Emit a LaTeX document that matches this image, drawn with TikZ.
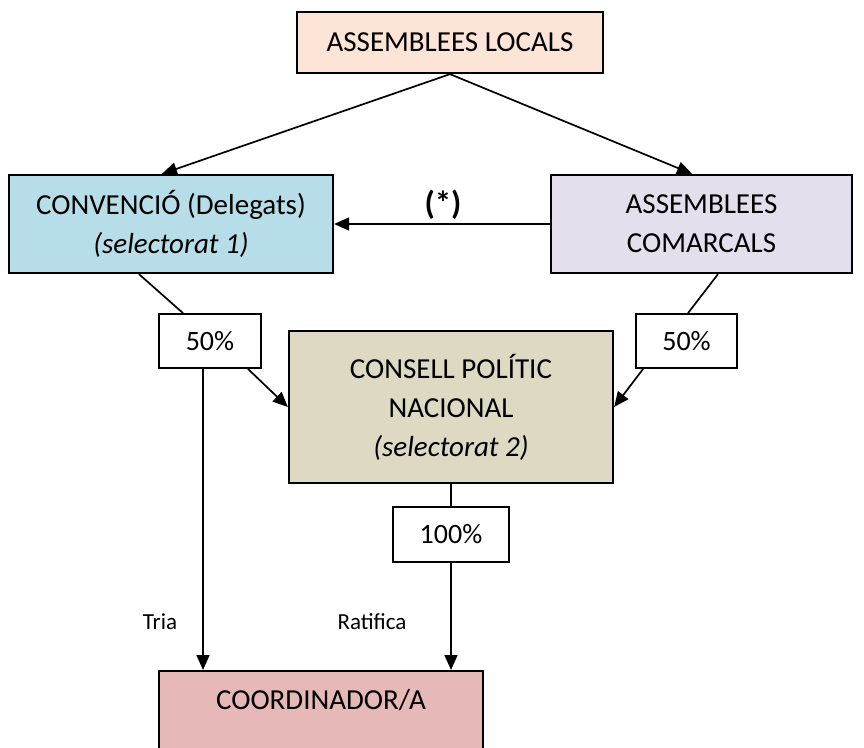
\documentclass[tikz,border=0pt]{standalone}
\usepackage{fontspec}
\setmainfont{Carlito}
\usetikzlibrary{arrows.meta}
\definecolor{localsfill}{RGB}{252,228,214}
\definecolor{convfill}{RGB}{183,222,232}
\definecolor{comarcfill}{RGB}{228,223,236}
\definecolor{consellfill}{RGB}{221,217,195}
\definecolor{coordfill}{RGB}{230,184,183}
\begin{document}
\begin{tikzpicture}[x=1pt,y=-1pt,
	box/.style={draw, line width=2.3pt, align=center, inner sep=0pt, font=\fontsize{29}{39}\selectfont},
	pct/.style={draw, fill=white, line width=1.8pt, inner sep=0pt, font=\fontsize{28}{34}\selectfont},
	link/.style={line width=1.7pt},
	arr/.style={line width=1.7pt, -{Triangle[length=15pt,width=13pt]}},
	note/.style={font=\fontsize{23}{28}\selectfont}]
\useasboundingbox (0,0) rectangle (864,747);

\node[box, fill=localsfill, minimum width=306pt, minimum height=61pt] (locals) at (450,42.5) {ASSEMBLEES LOCALS};
\node[box, fill=convfill, minimum width=324pt, minimum height=98pt] (conv) at (171,224) {CONVENCIÓ (Delegats)\\\textit{(selectorat 1)}};
\node[box, fill=comarcfill, minimum width=301pt, minimum height=98pt] (comarc) at (701.5,224) {ASSEMBLEES\\COMARCALS};
\node[box, fill=consellfill, minimum width=324pt, minimum height=152pt] (consell) at (451,407) {CONSELL POLÍTIC\\NACIONAL\\\textit{(selectorat 2)}};
\node[box, fill=coordfill, minimum width=324pt, minimum height=140pt, anchor=north,
	label={[anchor=north, font=\fontsize{29}{39}\selectfont, yshift=-16pt]north:COORDINADOR/A}] (coord) at (321,670) {};

\node[pct, minimum width=102pt, minimum height=54pt] (p50l) at (210,341) {50\%};
\node[pct, minimum width=101pt, minimum height=54pt] (p50r) at (686.5,341) {50\%};
\node[pct, minimum width=116pt, minimum height=55pt] (p100) at (451,534.5) {100\%};

\draw[arr] (locals.south) -- ([xshift=-9pt]conv.north);
\draw[arr] (locals.south) -- ([xshift=-9.5pt]comarc.north);
\draw[arr] (comarc.west) -- (conv.east);
\node[font=\fontsize{33}{40}\selectfont\bfseries] (ast) at (443,205) {(*)};

\draw[link] ([xshift=-32pt]conv.south) -- ([xshift=-27pt]p50l.north);
\draw[arr] ([xshift=-14pt]p50l.south east) -- (consell.west);
\draw[link] ([xshift=16.5pt]comarc.south) -- ([xshift=1.5pt]p50r.north);
\draw[arr] ([xshift=8pt]p50r.south west) -- (consell.east);

\draw[arr] ([xshift=-7pt]p50l.south) -- ([xshift=-7pt]p50l.south |- coord.north);
\draw[link] (consell.south) -- (p100.north);
\draw[arr] (p100.south) -- (p100.south |- coord.north);

\node[note] (tria) at (160,622) {Tria};
\node[note] (ratifica) at (372,622) {Ratifica};
\end{tikzpicture}
\end{document}
